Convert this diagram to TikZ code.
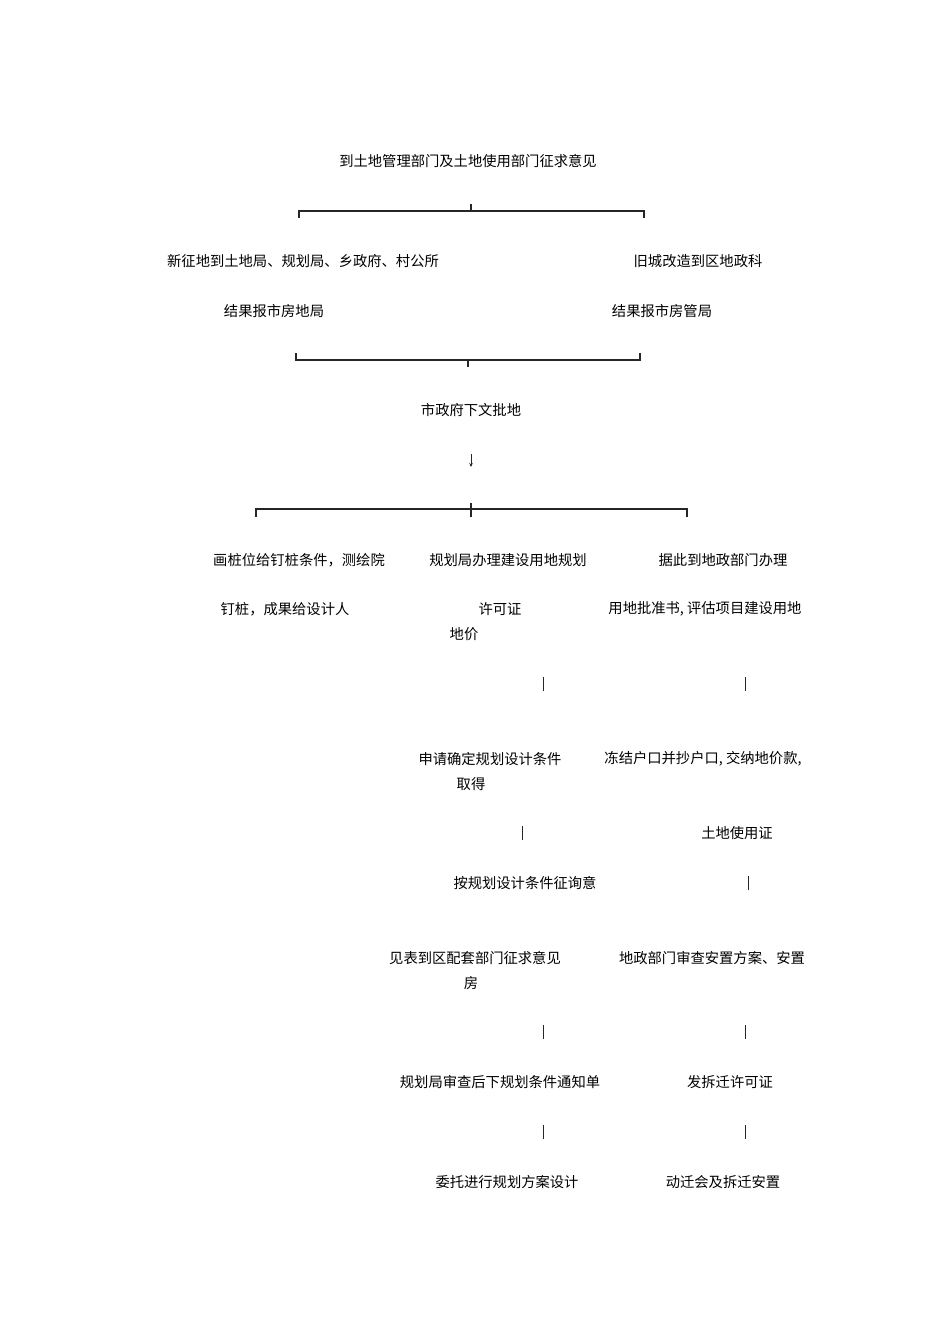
\documentclass[tikz,border=0pt]{standalone}
\usepackage{fontspec}
\setmainfont{Noto Sans CJK SC}
\usetikzlibrary{arrows.meta}
\begin{document}
\begin{tikzpicture}[x=1pt,y=-1pt,
  lbl/.style={inner sep=0pt,font=\fontsize{14.3}{17}\selectfont,text=black},
  brk/.style={line width=1.6pt,black!85},
  bar/.style={line width=0.9pt,black!85}]
\useasboundingbox (0,0) rectangle (950,1344);
% texts
\node[lbl] (t1) at (468,161) {到土地管理部门及土地使用部门征求意见};
\node[lbl] (a1) at (303,261) {新征地到土地局、规划局、乡政府、村公所};
\node[lbl] (b1) at (698,261) {旧城改造到区地政科};
\node[lbl] (a2) at (274,311) {结果报市房地局};
\node[lbl] (b2) at (662,311) {结果报市房管局};
\node[lbl] (t2) at (471,410) {市政府下文批地};
\node[lbl] (c1) at (299,560) {画桩位给钉桩条件，测绘院};
\node[lbl] (d1) at (508,560) {规划局办理建设用地规划};
\node[lbl] (e1) at (723,560) {据此到地政部门办理};
\node[lbl] (c2) at (285,609) {钉桩，成果给设计人};
\node[lbl] (d2) at (500,609) {许可证};
\node[lbl] (e2) at (705,609) {用地批准书, 评估项目建设用地};
\node[lbl] (e2b) at (464,634) {地价};
\node[lbl] (d3) at (490,759) {申请确定规划设计条件};
\node[lbl] (e3) at (703,759) {冻结户口并抄户口, 交纳地价款,};
\node[lbl] (d3b) at (471,784) {取得};
\node[lbl] (e4) at (737,833) {土地使用证};
\node[lbl] (d4) at (525,883) {按规划设计条件征询意};
\node[lbl] (d5) at (475,958) {见表到区配套部门征求意见};
\node[lbl] (e5) at (712,958) {地政部门审查安置方案、安置};
\node[lbl] (d5b) at (471,983) {房};
\node[lbl] (d6) at (500,1082) {规划局审查后下规划条件通知单};
\node[lbl] (e6) at (730,1082) {发拆迁许可证};
\node[lbl] (d7) at (507,1182) {委托进行规划方案设计};
\node[lbl] (e7) at (723,1182) {动迁会及拆迁安置};
% bracket 1
\coordinate (k1l) at (299,218); \coordinate (k1lt) at (299,211);
\coordinate (k1r) at (644,218); \coordinate (k1rt) at (644,211);
\coordinate (k1m) at (471,211); \coordinate (k1mt) at (471,204);
\draw[brk] (k1l) -- (k1lt) -- (k1rt) -- (k1r);
\draw[brk] (k1m) -- (k1mt);
% bracket 2
\coordinate (k2l) at (296,353); \coordinate (k2lb) at (296,360);
\coordinate (k2r) at (640,353); \coordinate (k2rb) at (640,360);
\coordinate (k2m) at (468,360); \coordinate (k2mb) at (468,367);
\draw[brk] (k2l) -- (k2lb) -- (k2rb) -- (k2r);
\draw[brk] (k2m) -- (k2mb);
% arrow
\coordinate (ar1) at (471,454); \coordinate (ar2) at (471,467);
\draw[line width=0.7pt,black!85,-{Stealth[length=4pt,width=3.5pt]}] (ar1) -- (ar2);
% bracket 3
\coordinate (k3l) at (256,517); \coordinate (k3lt) at (256,509);
\coordinate (k3r) at (687,517); \coordinate (k3rt) at (687,509);
\coordinate (k3mt) at (471,503); \coordinate (k3mb) at (471,517);
\draw[brk] (k3l) -- (k3lt) -- (k3rt) -- (k3r);
\draw[brk] (k3mt) -- (k3mb);
% small bars
\coordinate (v1a) at (543,677); \coordinate (v1b) at (543,691);
\coordinate (v2a) at (745,677); \coordinate (v2b) at (745,691);
\coordinate (v3a) at (522,826); \coordinate (v3b) at (522,840);
\coordinate (v4a) at (748,876); \coordinate (v4b) at (748,890);
\coordinate (v5a) at (543,1025); \coordinate (v5b) at (543,1039);
\coordinate (v6a) at (745,1025); \coordinate (v6b) at (745,1039);
\coordinate (v7a) at (543,1125); \coordinate (v7b) at (543,1139);
\coordinate (v8a) at (745,1125); \coordinate (v8b) at (745,1139);
\foreach \v in {1,...,8} \draw[bar] (v\v a) -- (v\v b);
\end{tikzpicture}
\end{document}
